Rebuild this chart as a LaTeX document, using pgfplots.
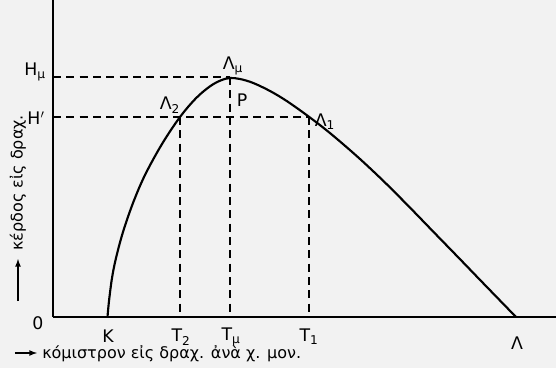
\documentclass[border=0pt]{standalone}
\usepackage{fontspec}
\setmainfont{DejaVu Sans}
\usepackage{pgfplots}
\pgfplotsset{compat=1.18}
\tikzset{lab/.style={font=\fontsize{13}{15}\selectfont, inner sep=1pt}}
\begin{document}
\begin{tikzpicture}
\path[use as bounding box, fill=black!5] (-39.75pt,-38.25pt) rectangle (377.25pt,237.75pt);
\begin{axis}[
  scale only axis, width=377.25pt, height=237.75pt,
  xmin=0, xmax=503, ymin=0, ymax=317,
  axis lines=left, axis line style={line width=1.1pt, -},
  xtick=\empty, ytick=\empty, clip=false,
]
\addplot[black, line width=1.6pt, smooth, tension=0.55] coordinates {
(54.5,0) (56,16) (59,39) (63,59) (70,85) (80,114) (92,142) (109,173)
(127,200) (143,218.8) (157,230.7) (168,236.7) (177,239) (187,238) (200,234.1)
(217,226) (234,215.8) (256,200.2) (277,183.9) (304,160.7) (330,136.4) (355,111.4)
(380,85.6) (405,59.9) (430,34) (463,0)};
\addplot[black, line width=0.9pt, dash pattern=on 6pt off 4pt] coordinates {(0,240) (177,240)};
\addplot[black, line width=0.9pt, dash pattern=on 6pt off 4pt] coordinates {(0,200) (256,200)};
\addplot[black, line width=0.9pt, dash pattern=on 6pt off 4pt] coordinates {(127,200) (127,0)};
\addplot[black, line width=0.9pt, dash pattern=on 6pt off 4pt] coordinates {(177,240) (177,0)};
\addplot[black, line width=0.9pt, dash pattern=on 6pt off 4pt] coordinates {(256,200) (256,0)};
\node[lab] at (axis cs:-15,-6) {0};
\node[lab] at (axis cs:55,-19) {K};
\node[lab] at (axis cs:128,-20) {T\textsubscript{2}};
\node[lab] at (axis cs:178,-20) {T\textsubscript{μ}};
\node[lab] at (axis cs:256,-20) {T\textsubscript{1}};
\node[lab] at (axis cs:464,-26) {Λ};
\node[lab] at (axis cs:-18,245) {H\textsubscript{μ}};
\node[lab] at (axis cs:-17,199) {H$'$};
\node[lab] at (axis cs:180,251) {Λ\textsubscript{μ}};
\node[lab] at (axis cs:117,212) {Λ\textsubscript{2}};
\node[lab] at (axis cs:189,217) {P};
\node[lab] at (axis cs:272,195) {Λ\textsubscript{1}};
\draw[-latex, line width=1pt] (axis cs:-38,-36) -- (axis cs:-16,-36);
\node[anchor=west, font=\fontsize{12}{14}\selectfont, inner sep=0pt] at (axis cs:-11,-37) {κόμιστρον εἰς δραχ. ἀνὰ χ. μον.};
\draw[-latex, line width=1pt] (axis cs:-35,16) -- (axis cs:-35,58);
\node[anchor=west, rotate=90, font=\fontsize{12}{14}\selectfont, inner sep=0pt] at (axis cs:-35,66) {κέρδος εἰς δραχ.};
\end{axis}
\end{tikzpicture}
\end{document}
